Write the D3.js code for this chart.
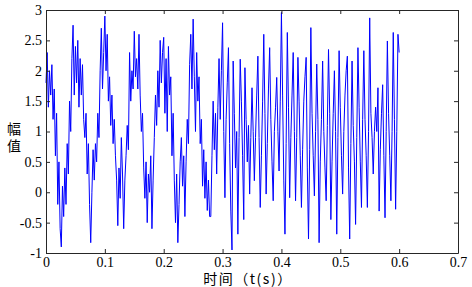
<!DOCTYPE html>
<html>
<head>
<meta charset="utf-8">
<script src="https://cdn.jsdelivr.net/npm/d3@7"></script>
<style>
  body { margin:0; background:#fff; }
  .axis path, .axis line { stroke:#262626; }
</style>
</head>
<body>
<div id="chart"></div>
<script>
// sample step (s) and signal values, one every 2 ms
var dt = 0.002;
var amp = [
  1.8, 2.3, 1.4, 2.0, 1.6, 2.1, 1.2, 1.7, 0.6, 1.3,
  -0.2, 0.5, -0.6, -0.9, 0.1, -0.4, 0.4, -0.2, 0.8, 0.3,
  1.5, 1.0, 2.2, 2.75, 1.6, 2.4, 1.8, 2.5, 1.4, 2.2,
  1.6, 2.1, 1.2, 0.9, 1.3, 0.3, 0.8, -0.2, -0.83, 0.0,
  0.7, 0.2, 0.8, 0.5, 1.3, 0.9, 2.0, 2.7, 1.7, 2.3,
  2.9, 2.0, 2.6, 1.5, 1.9, 1.1, 1.6, 0.8, 1.2, 0.6,
  0.2, -0.55, 0.4, -0.1, 0.9, 0.3, -0.6, 0.2, 0.6, 1.1,
  0.7, 2.3, 1.5, 2.0, 1.7, 2.65, 1.9, 2.2, 1.7, 2.6,
  1.6, 1.0, 1.3, 0.4, -0.1, 0.5, -0.5, 0.3, 0.0, 0.6,
  -0.6, 0.2, 0.9, 1.6, 1.1, 2.0, 1.4, 2.5, 1.8, 2.3,
  2.55, 1.3, 2.2, 1.0, 2.4, 1.6, 1.9, 0.6, 1.3, 0.2,
  -0.5, 0.3, -0.83, -0.2, 0.5, 0.9, 0.1, 0.6, -0.4, 0.5,
  1.2, 0.8, 2.1, 2.6, 1.7, 2.85, 1.9, 1.0, 2.3, 1.5,
  1.9, 0.8, 1.2, 0.1, 0.7, -0.1, 0.5, -0.3, 0.2, -0.4,
  -0.4, 0.6, 1.5, 0.7, 1.3, 0.3, 1.4, 2.2, 1.2, 2.0,
  2.79, 1.0, -0.09, 1.2, 1.8, 2.38, 0.8, -0.31, -0.95, 2.16,
  1.3, 0.4, 1.0, -0.69, 0.9, 2.19, 1.5, 0.6, -0.45, 2.05,
  1.2, 0.5, 1.1, -0.03, 0.9, 1.72, 1.0, 0.19, 0.9, 1.6,
  2.24, 0.9, -0.25, 0.6, 1.5, 2.6, 1.3, -0.03, 0.8, 1.7,
  2.38, 1.2, 0.5, -0.14, 1.0, 1.4, 1.89, 1.0, 0.35, 1.5,
  2.96, 1.6, 0.2, -0.69, 0.8, 2.63, 1.4, -0.09, 0.9, 1.6,
  2.3, 1.0, -0.14, 0.9, 2.22, 1.5, 0.6, -0.25, 0.7, 1.5,
  1.9, 2.22, 0.4, -0.77, 0.7, 2.71, 1.3, 0.6, -0.06, 1.0,
  2.11, 1.2, -0.83, 0.5, 1.2, 2.16, 1.0, 0.4, -0.14, 1.1,
  2.35, 1.3, -0.45, 0.5, 1.3, 2.0, 1.0, -0.69, 0.9, 2.33,
  1.4, 0.6, -0.03, 1.0, 1.6, 2.0, 2.24, 0.4, -0.77, 0.8,
  2.16, 1.1, 0.5, -0.53, 0.9, 2.38, 1.4, 0.5, -0.25, 1.2,
  2.33, 1.2, 0.6, -0.25, 1.0, 2.87, 1.3, 0.9, 0.3, 1.0,
  1.4, 1.0, 1.72, -0.31, 0.7, 1.3, 1.77, 0.6, -0.42, 1.0,
  2.49, 1.3, 0.6, -0.14, 1.0, 2.63, 1.2, -0.28, 1.0, 2.6,
  2.3
];
var xTicks = [0, 0.1, 0.2, 0.3, 0.4, 0.5, 0.6, 0.7];
var yTicks = [-1, -0.5, 0, 0.5, 1, 1.5, 2, 2.5, 3];

var data = amp.map(function(v, i) { return { t: i * dt, v: v }; });

var margin = { left:46, right:14, top:10, bottom:34 };
var W = 472, H = 287;
var w = W - margin.left - margin.right;
var h = H - margin.top - margin.bottom;

var svg = d3.select("#chart")
    .append("svg")
    .attr("width", W)
    .attr("height", H);

var g = svg.append("g")
    .attr("transform", "translate(" + margin.left + "," + margin.top + ")");

var xScale = d3.scaleLinear().domain([0, 0.7]).range([0, w]);
var yScale = d3.scaleLinear().domain([-1, 3]).range([h, 0]);

var fmt = function(d) { return String(d); };
var serif = "'Liberation Serif', 'Times New Roman', serif";

// signal
var line = d3.line()
    .x(function(d) { return xScale(d.t); })
    .y(function(d) { return yScale(d.v); });

g.append("path")
    .datum(data)
    .attr("d", line)
    .attr("fill", "none")
    .attr("stroke", "#0000ff")
    .attr("stroke-width", 1);

// axes, ticks pointing inward, box all round
g.append("g")
    .attr("class", "axis")
    .attr("transform", "translate(0," + h + ")")
    .call(d3.axisBottom(xScale).tickValues(xTicks).tickFormat(fmt).tickSizeInner(-4).tickSizeOuter(0).tickPadding(4))
    .attr("font-family", serif)
    .attr("font-size", 14);

g.append("g")
    .attr("class", "axis")
    .call(d3.axisLeft(yScale).tickValues(yTicks).tickFormat(fmt).tickSizeInner(-4).tickSizeOuter(0).tickPadding(4))
    .attr("font-family", serif)
    .attr("font-size", 14);

g.append("g")
    .attr("class", "axis")
    .call(d3.axisTop(xScale).tickValues(xTicks).tickFormat("").tickSizeInner(-4).tickSizeOuter(0));

g.append("g")
    .attr("class", "axis")
    .attr("transform", "translate(" + w + ",0)")
    .call(d3.axisRight(yScale).tickValues(yTicks).tickFormat("").tickSizeInner(-4).tickSizeOuter(0));

g.selectAll(".axis text").attr("fill", "#000");

// labels
g.append("text")
    .attr("x", w / 2 - 4)
    .attr("y", h + 31)
    .attr("text-anchor", "middle")
    .attr("font-family", "'Noto Sans CJK SC', sans-serif")
    .attr("font-size", 14)
    .attr("letter-spacing", 1.5)
    .text("时间（t(s)）");

var yl = g.append("text")
    .attr("text-anchor", "middle")
    .attr("font-family", "'Noto Sans CJK SC', sans-serif")
    .attr("font-size", 14);
yl.append("tspan").attr("x", -32).attr("y", 124).text("幅");
yl.append("tspan").attr("x", -32).attr("dy", 17).text("值");
</script>
</body>
</html>
